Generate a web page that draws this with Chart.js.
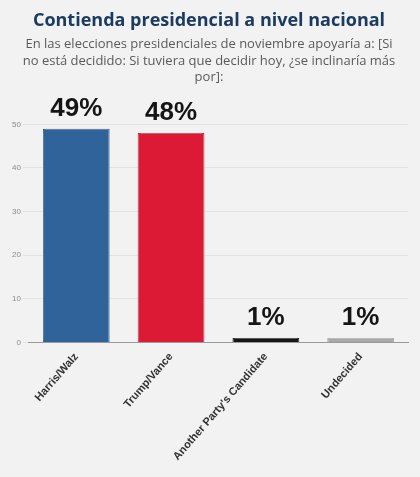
<!DOCTYPE html>
<html>
<head>
<meta charset="utf-8">
<script src="https://cdn.jsdelivr.net/npm/chart.js@4/dist/chart.umd.min.js"></script>
<style>
    html, body { margin: 0; padding: 0; background: #f2f2f2; }
    #caja { width: 420px; height: 477px; position: relative; }
</style>
</head>
<body>
<div id="caja"><canvas id="grafico-barras"></canvas></div>
<script>
// datos del grafico
const CATEGORIAS = ['Harris/Walz', 'Trump/Vance', "Another Party's Candidate", 'Undecided'];
const VALORES = [49, 48, 1, 1];
const ETIQUETAS = ['49%', '48%', '1%', '1%'];
const CORES = ['#2f6399', '#dc1a35', '#151515', '#a9a9a9'];
const BORDES = ['#1d4470', '#a8102a', '#000000', '#999999'];

const TITULO = 'Contienda presidencial a nivel nacional';
const SUBTITULO = [
    'En las elecciones presidenciales de noviembre apoyaría a: [Si',
    'no está decidido: Si tuviera que decidir hoy, ¿se inclinaría más',
    'por]:'
];

// halo blanco alrededor de las barras
const haloBarras = {
    id: 'haloBarras',
    beforeDatasetsDraw(chart) {
        const ctx = chart.ctx;
        ctx.save();
        ctx.shadowColor = 'rgba(255,255,255,1)';
        ctx.shadowBlur = 3;
    },
    afterDatasetsDraw(chart) {
        chart.ctx.restore();
    }
};

// etiquetas de porcentaje encima de cada barra
const etiquetasBarras = {
    id: 'etiquetasBarras',
    afterDraw(chart) {
        const ctx = chart.ctx;
        const meta = chart.getDatasetMeta(0);
        ctx.save();
        ctx.font = 'bold 26px "Liberation Sans", Arial, sans-serif';
        ctx.fillStyle = '#151515';
        ctx.textAlign = 'center';
        ctx.textBaseline = 'bottom';
        meta.data.forEach(function(barra, i) {
            ctx.fillText(ETIQUETAS[i], barra.x, barra.y - 7);
        });
        ctx.restore();
    }
};

new Chart(document.getElementById('grafico-barras'), {
    type: 'bar',
    data: {
        labels: CATEGORIAS,
        datasets: [{
            data: VALORES,
            backgroundColor: CORES,
            borderColor: BORDES,
            borderWidth: 1,
            categoryPercentage: 0.8,
            barPercentage: 0.88
        }]
    },
    options: {
        responsive: true,
        maintainAspectRatio: false,
        animation: false,
        layout: { padding: { left: 10, right: 12, top: 0, bottom: 6 } },
        plugins: {
            legend: { display: false },
            tooltip: { enabled: false },
            title: {
                display: true,
                text: TITULO,
                color: '#1c3b61',
                font: { family: '"Open Sans", sans-serif', size: 18, weight: 'bold' },
                padding: { top: 10, bottom: 5 }
            },
            subtitle: {
                display: true,
                text: SUBTITULO,
                color: '#5a5a5a',
                font: { family: '"Open Sans", sans-serif', size: 13, lineHeight: 1.25 },
                padding: { bottom: 39 }
            }
        },
        scales: {
            x: {
                grid: { display: false, drawTicks: false },
                border: { color: '#9a9a9a' },
                ticks: {
                    color: '#333333',
                    maxRotation: 49,
                    minRotation: 49,
                    padding: 8,
                    font: { family: '"Liberation Sans", Arial, sans-serif', size: 11, weight: 'bold' }
                }
            },
            y: {
                beginAtZero: true,
                max: 50,
                grid: { color: '#e2e2e2', tickLength: 6 },
                border: { display: false },
                ticks: {
                    stepSize: 10,
                    color: '#8a8a8a',
                    padding: 2,
                    font: { family: '"Liberation Sans", Arial, sans-serif', size: 8 }
                }
            }
        }
    },
    plugins: [haloBarras, etiquetasBarras]
});
</script>
</body>
</html>
